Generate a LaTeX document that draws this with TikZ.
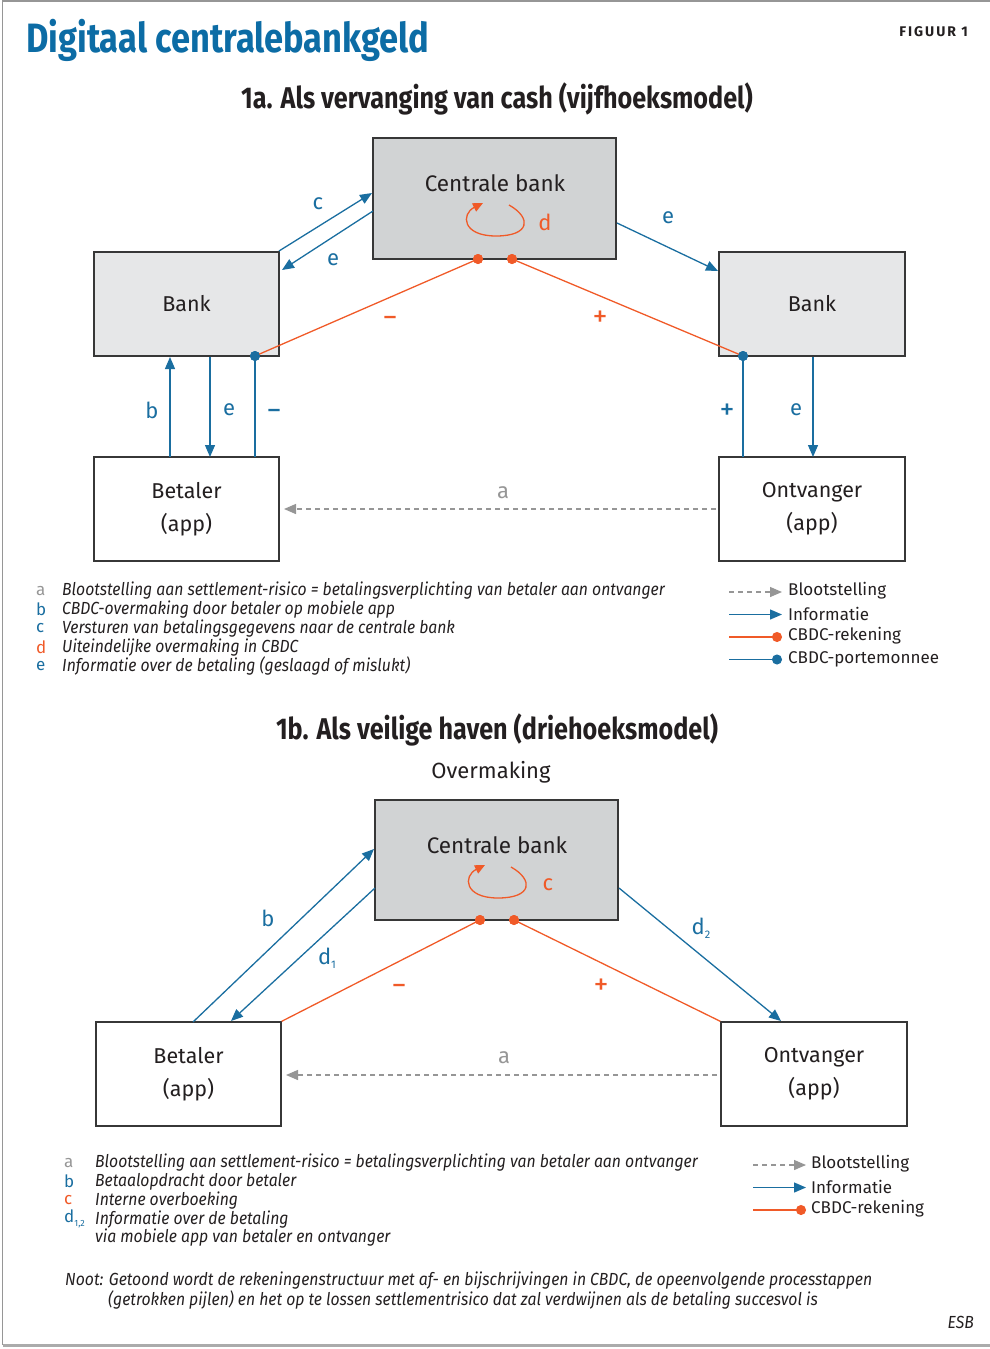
\documentclass[tikz,border=0pt]{standalone}
\usepackage{fontspec}
\setmainfont{Fira Sans}
\newfontfamily\condfont[FakeStretch=0.84]{Fira Sans}
\newfontfamily\legfont[FakeStretch=0.9]{Fira Sans}
\newfontfamily\figfont[LetterSpace=14]{Fira Sans}
\usetikzlibrary{arrows.meta,calc}
\definecolor{esbblue}{RGB}{26,110,160}
\definecolor{titleblue}{RGB}{12,108,165}
\definecolor{esborange}{RGB}{240,90,40}
\definecolor{esbgray}{RGB}{150,150,150}
\definecolor{cbfill}{RGB}{209,211,212}
\definecolor{bankfill}{RGB}{230,231,232}
\definecolor{txt}{RGB}{35,31,32}
\definecolor{boxline}{RGB}{55,55,55}
\tikzset{
  boxbase/.style={draw=boxline,line width=1.4pt,rectangle,inner sep=0pt,text=txt,
    font=\fontsize{21.5}{33}\selectfont,align=center},
  cbbox/.style={boxbase,fill=cbfill},
  bankbox/.style={boxbase,fill=bankfill},
  appbox/.style={boxbase,fill=white},
  tipA/.style={-{Triangle[length=12pt,width=10pt]}},
  infoarrow/.style={draw=esbblue,line width=1.3pt,tipA},
  infoline/.style={draw=esbblue,line width=1.3pt},
  acct/.style={draw=esborange,line width=1.3pt},
  expo/.style={draw=esbgray,line width=1.3pt,dash pattern=on 5pt off 4pt,tipA},
  dotor/.style={circle,fill=esborange,inner sep=0pt,minimum size=10pt},
  dotbl/.style={circle,fill=esbblue,inner sep=0pt,minimum size=10pt},
  lblbl/.style={text=esbblue,font=\fontsize{22}{24}\selectfont,inner sep=0pt},
  lblor/.style={text=esborange,font=\fontsize{22}{24}\selectfont,inner sep=0pt},
  lblgr/.style={text=esbgray,font=\fontsize{22}{24}\selectfont,inner sep=0pt},
  signbl/.style={text=esbblue,font=\fontsize{30}{32}\selectfont,inner sep=0pt},
  signor/.style={text=esborange,font=\fontsize{30}{32}\selectfont,inner sep=0pt},
  legtxt/.style={anchor=west,inner sep=0pt,text=txt,font=\legfont\itshape\fontsize{17.5}{19}\selectfont},
  legkey/.style={anchor=west,inner sep=0pt,font=\fontsize{17}{19}\selectfont},
  keytxt/.style={anchor=west,inner sep=0pt,text=txt,font=\fontsize{17}{19}\selectfont},
  keyinfo/.style={draw=esbblue,line width=1.3pt,tipA},
  keyexpo/.style={draw=esbgray,line width=1.3pt,dash pattern=on 5pt off 4pt,tipA},
  keyacct/.style={draw=esborange,line width=1.3pt,-{Circle[length=10pt]}},
  keywallet/.style={draw=esbblue,line width=1.3pt,-{Circle[length=10pt]}},
  loop/.style={draw=esborange,line width=1.3pt,-{Triangle[length=10pt,width=9pt]}},
  sectitle/.style={inner sep=0pt,text=txt,font=\condfont\bfseries\fontsize{30}{32}\selectfont},
}
\begin{document}
\begin{tikzpicture}[x=1pt,y=-1pt]
\useasboundingbox (0,0) rectangle (990,1349);
% frame
\draw[esbgray,line width=1.2pt] (990,1) -- (2.5,1) -- (2.5,1345);
\draw[esbgray!80,line width=3pt] (2.5,1345.5) -- (990,1345.5);
% titles
\node[anchor=west,inner sep=0pt,text=titleblue,font=\condfont\bfseries\fontsize{41}{44}\selectfont] (title) at (26,40) {Digitaal centralebankgeld};
\node[anchor=east,inner sep=0pt,text=txt,font=\figfont\bfseries\fontsize{14}{16}\selectfont] (fig) at (968,32) {FIGUUR 1};
\node[sectitle] (t1a) at (497,99) {1a. Als vervanging van cash (vijfhoeksmodel)};

% ===== 1a =====
\node[cbbox,minimum width=243,minimum height=121] (cb1) at (494.5,198.5) {};
\node[inner sep=0pt,text=txt,font=\fontsize{22.5}{25}\selectfont] (cb1t) at (495,183) {Centrale bank};
\node[bankbox,minimum width=185,minimum height=104] (bankL) at (186.5,304) {Bank};
\node[bankbox,minimum width=186,minimum height=104] (bankR) at (812,304) {Bank};
\node[appbox,minimum width=185,minimum height=104] (bet1) at (186.5,509) {Betaler\\(app)};
\node[appbox,minimum width=186,minimum height=104] (ont1) at (812,509) {Ontvanger\\(app)};

% loop d
\coordinate (l1s) at (509,205);
\coordinate (l1e) at (483,203);
\draw[loop] (l1s) .. controls (532,218) and (530,236) .. (496,236) .. controls (462,236) and (461,214) .. (l1e);
\node[lblor] (d1a) at (545,222) {d};

% c and e between bankL and cb
\coordinate (cS) at (279,251);
\coordinate (cE) at (372,193);
\draw[infoarrow] (cS) -- (cE);
\node[lblbl] (lc) at (318,204) {c};
\coordinate (eS) at (373,211);
\coordinate (eE) at (282,270);
\draw[infoarrow] (eS) -- (eE);
\node[lblbl] (le1) at (333,260) {e};
% e to right bank
\coordinate (e2S) at (617,223);
\coordinate (e2E) at (718,271);
\draw[infoarrow] (e2S) -- (e2E);
\node[lblbl] (le2) at (668,218) {e};

% orange account lines
\node[dotor] (o1) at (478,259) {};
\node[dotor] (o2) at (512,259) {};
\node[dotbl] (wL) at (255,356) {};
\node[dotbl] (wR) at (743,356) {};
\draw[acct] (o1.center) -- (wL.center);
\draw[acct] (o2.center) -- (wR.center);
\node[dotor] at (478,259) {};
\node[dotor] at (512,259) {};
\node[dotbl] at (255,356) {};
\node[dotbl] at (743,356) {};
\node[signor] (m1) at (390,322) {−};
\node[signor] (p1) at (600,319) {+};

% left verticals
\coordinate (bS) at (170,457);
\coordinate (bE) at (170,357);
\draw[infoarrow] (bS) -- (bE);
\node[lblbl] (lb) at (152,410) {b};
\coordinate (e3S) at (210,357);
\coordinate (e3E) at (210,457);
\draw[infoarrow] (e3S) -- (e3E);
\node[lblbl] (le3) at (229,410) {e};
\coordinate (wLb) at (255,457);
\draw[infoline] (wL.center) -- (wLb);
\node[signbl] (mw) at (274,415) {−};
% right verticals
\coordinate (wRb) at (743,457);
\draw[infoline] (wR.center) -- (wRb);
\node[signbl] (pw) at (727,412) {+};
\coordinate (e4S) at (813,357);
\coordinate (e4E) at (813,457);
\draw[infoarrow] (e4S) -- (e4E);
\node[lblbl] (le4) at (796,410) {e};

% exposure a
\coordinate (aS) at (716,509);
\coordinate (aE) at (284,509);
\draw[expo] (aS) -- (aE);
\node[lblgr] (la1) at (503,493) {a};

% legend 1a
\foreach \yy/\ll/\cc/\tt in {591/a/esbgray/{Blootstelling aan settlement-risico = betalingsverplichting van betaler aan ontvanger},
  609.7/b/esbblue/{CBDC-overmaking door betaler op mobiele app},
  628.4/c/esbblue/{Versturen van betalingsgegevens naar de centrale bank},
  647.1/d/esborange/{Uiteindelijke overmaking in CBDC},
  665.8/e/esbblue/{Informatie over de betaling (geslaagd of mislukt)}}{
  \node[legkey,text=\cc] at (36,\yy) {\ll};
  \node[legtxt] at (62,\yy) {\tt};
}
\coordinate (k1s) at (729,592); \coordinate (k1e) at (782,592);
\draw[keyexpo] (k1s) -- (k1e);
\node[keytxt] (k1t) at (788,591) {Blootstelling};
\coordinate (k2s) at (729,614.5); \coordinate (k2e) at (782,614.5);
\draw[keyinfo] (k2s) -- (k2e);
\node[keytxt] (k2t) at (788,614) {Informatie};
\coordinate (k3s) at (729,637); \coordinate (k3e) at (782,637);
\draw[keyacct] (k3s) -- (k3e);
\node[keytxt] (k3t) at (788,636) {CBDC-rekening};
\coordinate (k4s) at (729,659.5); \coordinate (k4e) at (782,659.5);
\draw[keywallet] (k4s) -- (k4e);
\node[keytxt] (k4t) at (788,659) {CBDC-portemonnee};

% ===== 1b =====
\node[sectitle] (t1b) at (497,730) {1b. Als veilige haven (driehoeksmodel)};
\node[inner sep=0pt,text=txt,font=\fontsize{22}{25}\selectfont] (overm) at (491,772) {Overmaking};
\node[cbbox,minimum width=243,minimum height=120] (cb2) at (496.5,860) {};
\node[inner sep=0pt,text=txt,font=\fontsize{22.5}{25}\selectfont] (cb2t) at (497,845) {Centrale bank};
\node[appbox,minimum width=185,minimum height=104] (bet2) at (188.5,1074) {Betaler\\(app)};
\node[appbox,minimum width=186,minimum height=104] (ont2) at (814,1074) {Ontvanger\\(app)};

\coordinate (l2s) at (511,867);
\coordinate (l2e) at (485,865);
\draw[loop] (l2s) .. controls (534,880) and (532,898) .. (498,898) .. controls (464,898) and (463,876) .. (l2e);
\node[lblor] (lc2) at (548,885) {c};

\coordinate (b2S) at (193,1022);
\coordinate (b2E) at (374,849);
\draw[infoarrow] (b2S) -- (b2E);
\node[lblbl] (lb2) at (268,918) {b};
\coordinate (d1S) at (375,888);
\coordinate (d1E) at (231,1021);
\draw[infoarrow] (d1S) -- (d1E);
\node[lblbl] (ld1) at (327,958) {d\raisebox{-0.35ex}{\fontsize{11}{12}\selectfont 1}};
\coordinate (d2S) at (619,888);
\coordinate (d2E) at (781,1021);
\draw[infoarrow] (d2S) -- (d2E);
\node[lblbl] (ld2) at (701,928) {d\raisebox{-0.35ex}{\fontsize{11}{12}\selectfont 2}};

\node[dotor] (o3) at (480,920) {};
\node[dotor] (o4) at (514,920) {};
\draw[acct] (o3.center) -- (bet2.north east);
\draw[acct] (o4.center) -- (ont2.north west);
\node[dotor] at (480,920) {};
\node[dotor] at (514,920) {};
\node[signor] (m2) at (399,990) {−};
\node[signor] (p2) at (601,987) {+};

\coordinate (a2S) at (717,1075);
\coordinate (a2E) at (286,1075);
\draw[expo] (a2S) -- (a2E);
\node[lblgr] (la2) at (504,1058) {a};

% legend 1b
\node[legkey,text=esbgray] at (64,1163) {a};
\node[legtxt] at (95,1163) {Blootstelling aan settlement-risico = betalingsverplichting van betaler aan ontvanger};
\node[legkey,text=esbblue] at (64,1181.7) {b};
\node[legtxt] at (95,1181.7) {Betaalopdracht door betaler};
\node[legkey,text=esborange] at (64,1200.4) {c};
\node[legtxt] at (95,1200.4) {Interne overboeking};
\node[legkey,text=esbblue] at (64,1219.1) {d\raisebox{-0.5ex}{\fontsize{9}{10}\selectfont 1,2}};
\node[legtxt] at (95,1219.1) {Informatie over de betaling};
\node[legtxt] at (95,1237.8) {via mobiele app van betaler en ontvanger};

\coordinate (k5s) at (753,1165); \coordinate (k5e) at (806,1165);
\draw[keyexpo] (k5s) -- (k5e);
\node[keytxt] (k5t) at (811,1164) {Blootstelling};
\coordinate (k6s) at (753,1187.5); \coordinate (k6e) at (806,1187.5);
\draw[keyinfo] (k6s) -- (k6e);
\node[keytxt] (k6t) at (811,1187) {Informatie};
\coordinate (k7s) at (753,1210); \coordinate (k7e) at (806,1210);
\draw[keyacct] (k7s) -- (k7e);
\node[keytxt] (k7t) at (811,1209) {CBDC-rekening};

% note
\node[legtxt] (note1) at (65,1281) {Noot: Getoond wordt de rekeningenstructuur met af- en bijschrijvingen in CBDC, de opeenvolgende processtappen};
\node[legtxt] (note2) at (108,1300) {(getrokken pijlen) en het op te lossen settlementrisico dat zal verdwijnen als de betaling succesvol is};
\node[anchor=east,inner sep=0pt,text=txt,font=\legfont\itshape\fontsize{17.5}{19}\selectfont] (esb) at (974,1322) {ESB};
\end{tikzpicture}
\end{document}
